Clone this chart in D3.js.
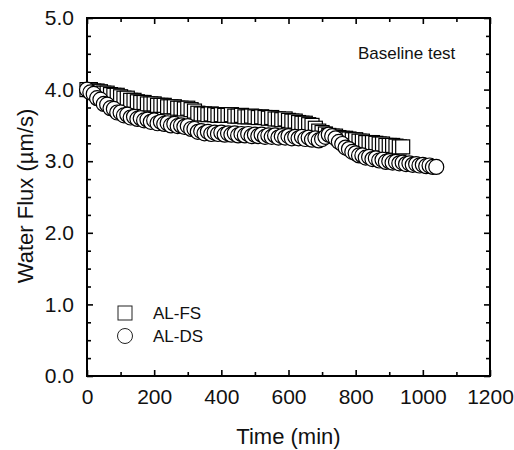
<!DOCTYPE html>
<html>
<head>
<meta charset="utf-8">
<script src="https://cdn.jsdelivr.net/npm/d3@7"></script>
<style>
  body { margin: 0; background: #fff; }
  svg { font-family: "Liberation Sans", Arial, sans-serif; }
</style>
</head>
<body>
<svg id="chart" width="514" height="450"></svg>
<script>
// time in minutes, flux in um/s (every 10 min)
var fsTime = d3.range(0, 950, 10);
var fsFlux = [
  4.00, 4.00, 3.98, 3.98, 3.97, 3.95, 3.95, 3.93, 3.92, 3.92,
  3.90, 3.88, 3.88, 3.85, 3.85, 3.83, 3.82, 3.82, 3.80, 3.80,
  3.80, 3.78, 3.78, 3.78, 3.76, 3.76, 3.76, 3.74, 3.74, 3.73,
  3.74, 3.72, 3.70, 3.67, 3.66, 3.66, 3.65, 3.66, 3.65, 3.64,
  3.65, 3.64, 3.64, 3.65, 3.63, 3.63, 3.64, 3.62, 3.62, 3.63,
  3.62, 3.61, 3.62, 3.61, 3.60, 3.61, 3.59, 3.59, 3.58, 3.59,
  3.57, 3.56, 3.56, 3.54, 3.53, 3.53, 3.51, 3.50, 3.46, 3.42,
  3.40, 3.38, 3.36, 3.35, 3.35, 3.33, 3.32, 3.32, 3.31, 3.30,
  3.30, 3.28, 3.28, 3.26, 3.26, 3.26, 3.25, 3.24, 3.24, 3.22,
  3.22, 3.22, 3.21, 3.20, 3.20
];
var dsTime = d3.range(0, 1050, 10);
var dsFlux = [
  4.00, 3.96, 3.94, 3.88, 3.86, 3.80, 3.79, 3.74, 3.73, 3.68,
  3.68, 3.64, 3.65, 3.61, 3.62, 3.59, 3.60, 3.57, 3.58, 3.55,
  3.57, 3.53, 3.55, 3.52, 3.53, 3.50, 3.52, 3.49, 3.50, 3.48,
  3.49, 3.45, 3.45, 3.41, 3.42, 3.39, 3.41, 3.38, 3.40, 3.38,
  3.40, 3.37, 3.39, 3.37, 3.39, 3.36, 3.38, 3.36, 3.38, 3.35,
  3.37, 3.35, 3.37, 3.34, 3.36, 3.34, 3.36, 3.33, 3.35, 3.33,
  3.35, 3.32, 3.34, 3.32, 3.34, 3.31, 3.33, 3.30, 3.32, 3.29,
  3.31, 3.34, 3.37, 3.35, 3.32, 3.27, 3.24, 3.19, 3.17, 3.13,
  3.11, 3.08, 3.08, 3.05, 3.06, 3.03, 3.04, 3.01, 3.02, 2.99,
  3.00, 2.98, 2.99, 2.97, 2.98, 2.96, 2.97, 2.95, 2.96, 2.94,
  2.95, 2.93, 2.94, 2.92, 2.92
];
var xTicks = [0, 200, 400, 600, 800, 1000, 1200];
var xMinor = [100, 300, 500, 700, 900, 1100];
var yTicks = [0, 1, 2, 3, 4, 5];
var yMinor = [0.25, 0.5, 0.75, 1.25, 1.5, 1.75, 2.25, 2.5, 2.75, 3.25, 3.5, 3.75, 4.25, 4.5, 4.75];
var seriesNames = ["AL-FS", "AL-DS"];

var svg = d3.select("#chart");
var pLeft = 87, pRight = 490, pTop = 18, pBottom = 376;

var x = d3.scaleLinear().domain([0, 1200]).range([pLeft, pRight]);
var y = d3.scaleLinear().domain([0, 5]).range([pBottom, pTop]);

var g = svg.append("g");

// axes, ticks pointing inward
function styleAxis(sel) {
  sel.select(".domain").remove();
  sel.selectAll(".tick line").attr("stroke", "#000").attr("stroke-width", 1.6);
  sel.selectAll("text").attr("fill", "#111").style("font-size", "21px");
}

g.append("g").attr("transform", "translate(0," + pBottom + ")")
  .call(d3.axisBottom(x).tickValues(xTicks).tickSizeInner(-6).tickSizeOuter(0).tickPadding(13).tickFormat(d3.format("d")))
  .call(styleAxis);
g.append("g").attr("transform", "translate(0," + pBottom + ")")
  .call(d3.axisBottom(x).tickValues(xMinor).tickSizeInner(-4).tickSizeOuter(0).tickFormat(""))
  .call(styleAxis);
g.append("g").attr("transform", "translate(0," + pTop + ")")
  .call(d3.axisTop(x).tickValues(xTicks).tickSizeInner(-6).tickSizeOuter(0).tickFormat(""))
  .call(styleAxis);
g.append("g").attr("transform", "translate(0," + pTop + ")")
  .call(d3.axisTop(x).tickValues(xMinor).tickSizeInner(-4).tickSizeOuter(0).tickFormat(""))
  .call(styleAxis);

g.append("g").attr("transform", "translate(" + pLeft + ",0)")
  .call(d3.axisLeft(y).tickValues(yTicks).tickSizeInner(-6).tickSizeOuter(0).tickPadding(13).tickFormat(d3.format(".1f")))
  .call(styleAxis);
g.append("g").attr("transform", "translate(" + pLeft + ",0)")
  .call(d3.axisLeft(y).tickValues(yMinor).tickSizeInner(-4).tickSizeOuter(0).tickFormat(""))
  .call(styleAxis);
g.append("g").attr("transform", "translate(" + pRight + ",0)")
  .call(d3.axisRight(y).tickValues(yTicks).tickSizeInner(-6).tickSizeOuter(0).tickFormat(""))
  .call(styleAxis);
g.append("g").attr("transform", "translate(" + pRight + ",0)")
  .call(d3.axisRight(y).tickValues(yMinor).tickSizeInner(-4).tickSizeOuter(0).tickFormat(""))
  .call(styleAxis);

// frame
g.append("rect")
  .attr("x", pLeft).attr("y", pTop)
  .attr("width", pRight - pLeft).attr("height", pBottom - pTop)
  .attr("fill", "none").attr("stroke", "#000").attr("stroke-width", 2);

// data
var fsData = fsTime.map(function(t, i) { return [t, fsFlux[i]]; });
var dsData = dsTime.map(function(t, i) { return [t, dsFlux[i]]; });

var sq = 14, rad = 7.5;
var mStroke = "#000", mWidth = 1.2;

g.selectAll(".fs")
  .data(fsData).enter()
  .append("rect")
  .attr("class", "fs")
  .attr("x", function(d) { return x(d[0]) - sq / 2; })
  .attr("y", function(d) { return y(d[1]) - sq / 2; })
  .attr("width", sq).attr("height", sq)
  .attr("fill", "#fff").attr("stroke", mStroke).attr("stroke-width", mWidth);

g.selectAll(".ds")
  .data(dsData).enter()
  .append("circle")
  .attr("class", "ds")
  .attr("cx", function(d) { return x(d[0]); })
  .attr("cy", function(d) { return y(d[1]); })
  .attr("r", rad)
  .attr("fill", "#fff").attr("stroke", mStroke).attr("stroke-width", mWidth);

// legend
var leg = g.append("g");
leg.append("rect")
  .attr("x", 125 - sq / 2).attr("y", 313 - sq / 2)
  .attr("width", sq).attr("height", sq)
  .attr("fill", "#fff").attr("stroke", "#222");
leg.append("circle")
  .attr("cx", 125).attr("cy", 336).attr("r", rad)
  .attr("fill", "#fff").attr("stroke", "#222");
leg.selectAll("text")
  .data(seriesNames).enter()
  .append("text")
  .attr("x", 153)
  .attr("y", function(d, i) { return 319 + i * 23; })
  .style("font-size", "17px")
  .attr("fill", "#111")
  .text(function(d) { return d; });

// annotation
g.append("text")
  .attr("x", 358).attr("y", 59)
  .style("font-size", "17px")
  .attr("fill", "#111")
  .text("Baseline test");

// axis titles
g.append("text")
  .attr("x", (pLeft + pRight) / 2).attr("y", 444)
  .attr("text-anchor", "middle")
  .style("font-size", "22px")
  .attr("fill", "#111")
  .text("Time (min)");

g.append("text")
  .attr("transform", "translate(33,196) rotate(-90)")
  .attr("text-anchor", "middle")
  .style("font-size", "22px")
  .attr("fill", "#111")
  .text("Water Flux (\u00b5m/s)");
</script>
</body>
</html>
